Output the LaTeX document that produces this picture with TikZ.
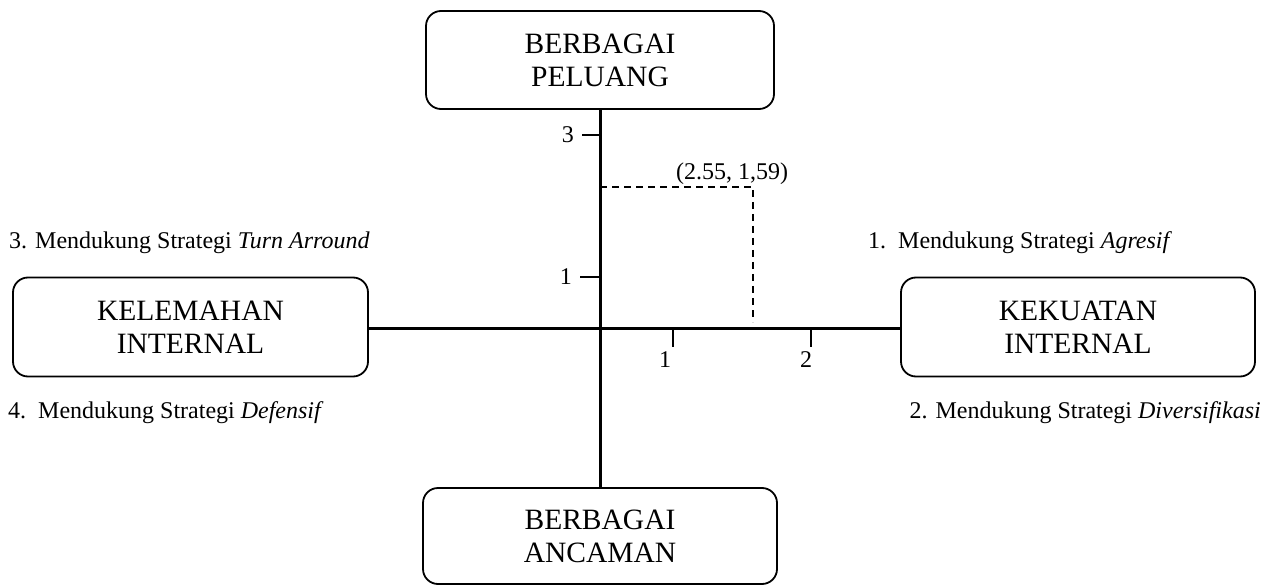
\documentclass[tikz,border=0pt]{standalone}
\usepackage{fontspec}
\setmainfont{Liberation Serif}
\begin{document}
\begin{tikzpicture}[x=1pt,y=-1pt,
  box/.style={draw,line width=1.8pt,rounded corners=15pt,align=center,inner sep=0pt,
    font=\fontsize{29.5}{33}\selectfont},
  axis/.style={line width=3pt},
  tick/.style={line width=2.2pt},
  dash line/.style={line width=2pt,dash pattern=on 7pt off 5pt},
  lbl/.style={font=\fontsize{24}{28}\selectfont,inner sep=0pt},
  num/.style={font=\fontsize{24}{28}\selectfont,inner sep=0pt}]
\useasboundingbox (0,0) rectangle (1263,585);
\node[box,minimum width=348pt,minimum height=98pt] (top) at (600,60) {BERBAGAI\\PELUANG};
\node[box,minimum width=354pt,minimum height=96pt] (bot) at (600,536) {BERBAGAI\\ANCAMAN};
\node[box,minimum width=355pt,minimum height=99pt] (left) at (190.5,327) {KELEMAHAN\\INTERNAL};
\node[box,minimum width=354pt,minimum height=99pt] (right) at (1078,327) {KEKUATAN\\INTERNAL};
\coordinate (O) at (600,328);
\draw[axis] (top.south) -- (bot.north);
\draw[axis] (left.east |- O) -- (right.west |- O);
% y ticks
\coordinate (y3) at (600,135);
\coordinate (y1) at (600,277);
\draw[tick] (y3) -- ++(-18,0) node[num,left=7pt] (l3) {3};
\draw[tick] (y1) -- ++(-20,0) node[num,left=7pt] (l1) {1};
% x ticks
\coordinate (x1) at (673,330);
\coordinate (x2) at (811,330);
\draw[tick] (x1) -- ++(0,17);
\draw[tick] (x2) -- ++(0,17);
\node[num] (lx1) at (665,360) {1};
\node[num] (lx2) at (806,360) {2};
% dashed point
\coordinate (P) at (753,187);
\draw[dash line] (P -| O) -- (P) -- (753,322);
\node[num] (pl) at (732,174) {(2.55, 1,59)};
% labels
\node[lbl,anchor=west] (s3) at (9,243) {3. Mendukung Strategi \textit{Turn Arround}};
\node[lbl,anchor=west] (s1) at (868,243) {1.\ \ Mendukung Strategi \textit{Agresif}};
\node[lbl,anchor=west] (s4) at (8,413) {4.\ \ Mendukung Strategi \textit{Defensif}};
\node[lbl,anchor=east] (s2) at (1261,413) {2. Mendukung Strategi \textit{Diversifikasi}};
\end{tikzpicture}
\end{document}
